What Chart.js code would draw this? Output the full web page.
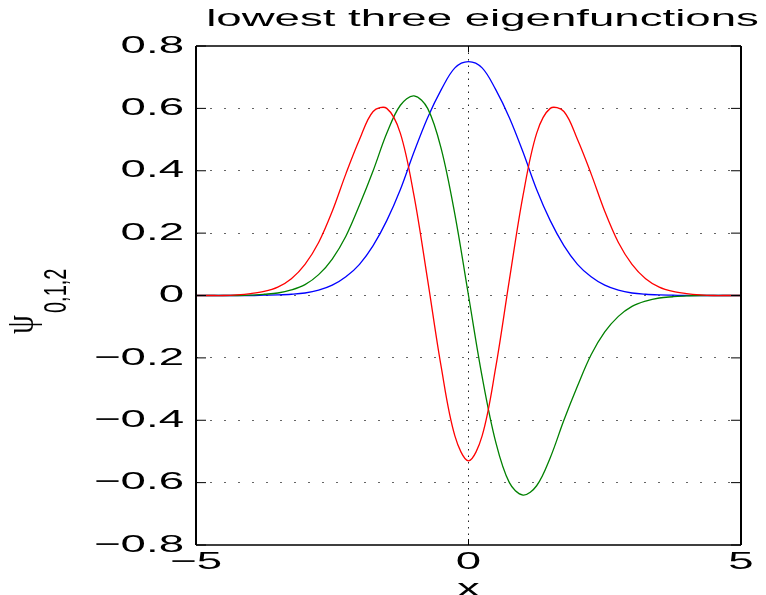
<!DOCTYPE html>
<html>
<head>
<meta charset="utf-8">
<script src="https://cdn.jsdelivr.net/npm/chart.js@4.4.1/dist/chart.umd.min.js"></script>
<style>
  body { margin: 0; background: #fff; }
  canvas { display: block; }
</style>
</head>
<body>
<canvas id="eigenChart" width="766" height="595"></canvas>
<script>
// x positions (step 0.25)
const xVals = [-5, -4.75, -4.5, -4.25, -4, -3.75, -3.5, -3.25, -3, -2.75, -2.5, -2.25, -2, -1.75, -1.5, -1.25, -1, -0.75, -0.5, -0.25,
    0, 0.25, 0.5, 0.75, 1, 1.25, 1.5, 1.75, 2, 2.25, 2.5, 2.75, 3, 3.25, 3.5, 3.75, 4, 4.25, 4.5, 4.75, 5];

// psi_0 (blue)
const psi0 = [0, 0, 0, 0, 0, 0.001, 0.002, 0.004, 0.008, 0.017, 0.033, 0.06, 0.10, 0.16, 0.24, 0.34, 0.46, 0.57, 0.66, 0.73,
    0.75, 0.73, 0.66, 0.57, 0.46, 0.34, 0.24, 0.16, 0.10, 0.06, 0.033, 0.017, 0.008, 0.004, 0.002, 0.001, 0, 0, 0, 0, 0];

// psi_1 (green)
const psi1 = [0, 0, 0, 0, 0.001, 0.004, 0.008, 0.018, 0.035, 0.067, 0.117, 0.19, 0.29, 0.40, 0.52, 0.61, 0.64, 0.60, 0.47, 0.26,
    0, -0.26, -0.47, -0.60, -0.64, -0.61, -0.52, -0.40, -0.29, -0.19, -0.117, -0.067, -0.035, -0.018, -0.008, -0.004, -0.001, 0, 0, 0, 0];

// psi_2 (red)
const psi2 = [0, 0, 0, 0.002, 0.006, 0.013, 0.027, 0.054, 0.10, 0.17, 0.27, 0.39, 0.50, 0.59, 0.60, 0.52, 0.32, 0.05, -0.23, -0.45,
    -0.53, -0.45, -0.23, 0.05, 0.32, 0.52, 0.60, 0.59, 0.50, 0.39, 0.27, 0.17, 0.10, 0.054, 0.027, 0.013, 0.006, 0.002, 0, 0, 0];

const xTicks = [-5, 0, 5];
const yTicks = [-0.8, -0.6, -0.4, -0.2, 0, 0.2, 0.4, 0.6, 0.8];

const titleText = "lowest three eigenfunctions";
const xLabel = "x";

const FONT = '"Liberation Sans", Arial, Helvetica, sans-serif';
const STRETCH = 1.9;

function pairs(ys) {
    return xVals.map((x, i) => ({ x: x, y: ys[i] }));
}

function fmtTick(v) {
    const r = Math.round(v * 10) / 10;
    if (r === 0) return "0";
    const s = Math.abs(r).toFixed(1);
    return r < 0 ? "\u2212" + s : s;
}

function wideText(ctx, text, x, y, align, size) {
    ctx.save();
    ctx.translate(x, y);
    ctx.scale(STRETCH, 1);
    ctx.font = size + "px " + FONT;
    ctx.textAlign = align;
    ctx.textBaseline = "middle";
    ctx.fillStyle = "#000";
    ctx.fillText(text, 0, 0);
    ctx.restore();
}

const matlabFrame = {
    id: "matlabFrame",
    afterDraw(chart) {
        const ctx = chart.ctx;
        const a = chart.chartArea;
        const xs = chart.scales.x;
        const ys = chart.scales.y;

        ctx.save();
        ctx.strokeStyle = "#000";
        // box
        ctx.lineWidth = 1.5;
        ctx.beginPath();
        ctx.moveTo(a.left, a.top); ctx.lineTo(a.right, a.top);
        ctx.moveTo(a.left, a.bottom); ctx.lineTo(a.right, a.bottom);
        ctx.stroke();
        ctx.lineWidth = 2;
        ctx.beginPath();
        ctx.moveTo(a.left, a.top); ctx.lineTo(a.left, a.bottom);
        ctx.moveTo(a.right, a.top); ctx.lineTo(a.right, a.bottom);
        ctx.stroke();

        // inward tick marks
        ctx.lineWidth = 1;
        ctx.beginPath();
        ys.ticks.forEach(t => {
            const py = ys.getPixelForValue(t.value);
            ctx.moveTo(a.left, py); ctx.lineTo(a.left + 10, py);
            ctx.moveTo(a.right, py); ctx.lineTo(a.right - 10, py);
        });
        xs.ticks.forEach(t => {
            const px = xs.getPixelForValue(t.value);
            ctx.moveTo(px, a.bottom); ctx.lineTo(px, a.bottom - 6);
            ctx.moveTo(px, a.top); ctx.lineTo(px, a.top + 6);
        });
        ctx.stroke();
        ctx.restore();

        // tick labels
        ys.ticks.forEach(t => {
            wideText(ctx, t.label, a.left - 12, ys.getPixelForValue(t.value), "right", 24);
        });
        xs.ticks.forEach(t => {
            wideText(ctx, t.label, xs.getPixelForValue(t.value), a.bottom + 17, "center", 24);
        });

        // title and x label
        wideText(ctx, titleText, (a.left + a.right) / 2 + 14, 19, "center", 24);
        wideText(ctx, xLabel, (a.left + a.right) / 2, a.bottom + 44, "center", 24);

        // y label: psi with subscript, rotated
        ctx.save();
        ctx.translate(0, 334);
        ctx.rotate(-Math.PI / 2);
        ctx.fillStyle = "#000";
        ctx.textBaseline = "alphabetic";
        ctx.textAlign = "left";
        ctx.save();
        ctx.scale(1, 1.3);
        ctx.font = '30px "Liberation Serif", serif';
        ctx.fillText("\u03C8", 0, 25);
        ctx.restore();
        ctx.scale(1, 1.6);
        ctx.font = "20px " + FONT;
        ctx.fillText("0,1,2", 21, 41);
        ctx.restore();
    }
};

new Chart(document.getElementById("eigenChart"), {
    type: "line",
    data: {
        datasets: [
            { label: "psi0", data: pairs(psi0), borderColor: "#0000ff", order: 3 },
            { label: "psi1", data: pairs(psi1), borderColor: "#008000", order: 2 },
            { label: "psi2", data: pairs(psi2), borderColor: "#ff0000", order: 1 }
        ]
    },
    options: {
        responsive: false,
        animation: false,
        events: [],
        layout: { padding: { left: 196, right: 25, top: 46, bottom: 50 } },
        elements: {
            point: { radius: 0 },
            line: { borderWidth: 1.3, tension: 0.35, fill: false }
        },
        plugins: {
            legend: { display: false },
            tooltip: { enabled: false },
            title: { display: false }
        },
        scales: {
            x: {
                type: "linear",
                min: -5,
                max: 5,
                afterBuildTicks: s => { s.ticks = xTicks.map(v => ({ value: v })); },
                afterFit: s => { s.height = 0; },
                ticks: { display: false, callback: v => fmtTick(v).replace(".0", "") },
                border: { display: false, dash: [1.5, 5] },
                grid: {
                    drawTicks: false,
                    lineWidth: 1,
                    color: c => (c.tick && Math.abs(c.tick.value) < 4.9) ? "#222" : "rgba(0,0,0,0)"
                }
            },
            y: {
                min: -0.8,
                max: 0.8,
                afterBuildTicks: s => { s.ticks = yTicks.map(v => ({ value: v })); },
                afterFit: s => { s.width = 0; },
                ticks: { display: false, callback: v => fmtTick(v) },
                border: { display: false, dash: [2, 12] },
                grid: {
                    drawTicks: false,
                    lineWidth: 1,
                    color: c => (c.tick && Math.abs(c.tick.value) < 0.79) ? "#666" : "rgba(0,0,0,0)"
                }
            }
        }
    },
    plugins: [matlabFrame]
});
</script>
</body>
</html>
